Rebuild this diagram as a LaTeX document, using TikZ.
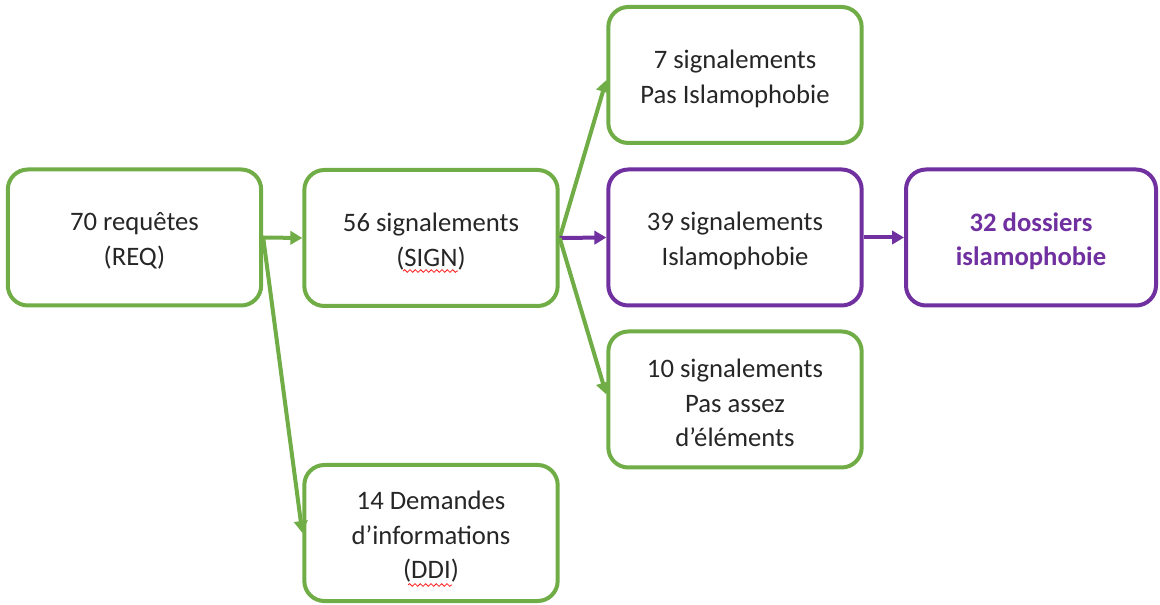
\documentclass[tikz,border=0pt]{standalone}
\usepackage{fontspec}
\setmainfont{Carlito}
\usetikzlibrary{arrows.meta,decorations.pathmorphing,calc}
\definecolor{grn}{HTML}{70AD47}
\definecolor{prp}{HTML}{7030A0}
\tikzset{
  box/.style={draw=grn, line width=3pt, rounded corners=15pt, minimum width=190pt, minimum height=102pt, inner sep=0pt},
  pbox/.style={box, draw=prp},
  boxtext/.style={align=center, inner sep=0pt, yshift=-2.7pt, font=\fontsize{20}{26}\selectfont, text=black!85},
  btext/.style={boxtext, font=\fontsize{20}{26}\selectfont\bfseries, text=prp},
  garrow/.style={draw=grn, fill=grn, line width=3pt, -{Triangle[length=9pt,width=10pt]}},
  parrow/.style={garrow, draw=prp, fill=prp},
  squig/.style={draw=red!90!white, line width=0.6pt, decorate, decoration={snake, amplitude=1pt, segment length=4pt}}
}
\begin{document}
\begin{tikzpicture}[x=0.75pt,y=-0.75pt]
\useasboundingbox (0,0) rectangle (1160,605);
\node[box, label={[boxtext]center:{70 requêtes\\(REQ)}}] (A) at (134.5,237.5) {};
\node[box, label={[boxtext]center:{56 signalements\\(SIGN)}}] (B) at (431,238) {};
\node[box, label={[boxtext]center:{7 signalements\\Pas Islamophobie}}] (C) at (735,75) {};
\node[pbox, label={[boxtext]center:{39 signalements\\Islamophobie}}] (D) at (735,237.5) {};
\node[pbox, minimum width=187.5pt, label={[btext]center:{32 dossiers\\islamophobie}}] (E) at (1031,237.5) {};
\node[box, label={[boxtext]center:{10 signalements\\Pas assez\\d’éléments}}] (F) at (735,399.5) {};
\node[box, label={[boxtext]center:{14 Demandes\\d’informations\\(DDI)}}] (G) at (431,533) {};
\draw[garrow] (A.east) -- (B.west);
\draw[garrow] (A.east) -- (G.west);
\draw[garrow] (B.east) -- ($(C.west)+(0,5)$);
\draw[parrow] (B.east) -- (D.west);
\draw[garrow] (B.east) -- ($(F.west)+(0,-5)$);
\draw[parrow] (D.east) -- (E.west);
\draw[squig] ($(B.center)+(-28,33)$) -- ($(B.center)+(27,33)$);
\draw[squig] ($(G.center)+(-23,52)$) -- ($(G.center)+(21,52)$);
\end{tikzpicture}
\end{document}
